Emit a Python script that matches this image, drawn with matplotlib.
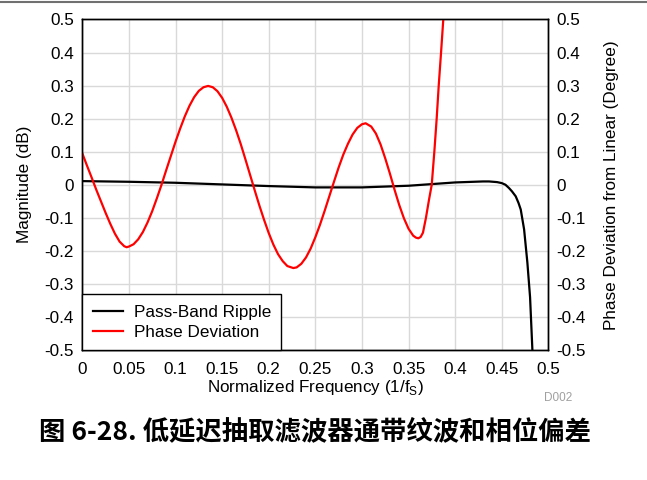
import matplotlib
matplotlib.use("Agg")
import matplotlib.pyplot as plt
from matplotlib.lines import Line2D

plt.rcParams['font.family'] = ['Liberation Sans', 'DejaVu Sans']

# Pass-band ripple (dB)
ripple_f = [0.0, 0.05, 0.1, 0.15, 0.2, 0.25, 0.3, 0.35, 0.4, 0.43, 0.4364,
            0.445, 0.45, 0.454, 0.4578, 0.461, 0.465, 0.468, 0.4704, 0.474,
            0.4775, 0.4804, 0.4829, 0.4845]
ripple_db = [0.011, 0.009, 0.006, 0.001, -0.004, -0.008, -0.008, -0.003, 0.007,
             0.010, 0.010, 0.008, 0.005, 0.000, -0.010, -0.020, -0.035, -0.055,
             -0.075, -0.135, -0.235, -0.34, -0.5, -0.6]

# Phase deviation from linear (degree)
phase_f = [0.0, 0.005, 0.01, 0.015, 0.02, 0.025, 0.03, 0.035, 0.04, 0.045,
           0.0476, 0.05, 0.055, 0.06, 0.065, 0.07, 0.075, 0.08, 0.085, 0.09, 0.095,
           0.10, 0.105, 0.11, 0.115, 0.12, 0.125, 0.13, 0.135, 0.14, 0.145,
           0.15, 0.155, 0.16, 0.165, 0.17, 0.175, 0.18, 0.185, 0.19, 0.195,
           0.20, 0.205, 0.21, 0.215, 0.22, 0.2264, 0.23, 0.235, 0.24, 0.245,
           0.25, 0.255, 0.26, 0.265, 0.27, 0.275, 0.28, 0.285, 0.29, 0.295,
           0.30, 0.304, 0.31, 0.315, 0.32, 0.325, 0.33, 0.335, 0.34, 0.345,
           0.35, 0.355, 0.358, 0.3605, 0.363, 0.3655, 0.3687, 0.372, 0.3749, 0.3777,
           0.3802, 0.3824, 0.3849, 0.3873, 0.3897]
phase_deg = [0.095, 0.058, 0.022, -0.015, -0.05, -0.085, -0.118, -0.148, -0.172, -0.186,
             -0.189, -0.187, -0.180, -0.165, -0.143, -0.114, -0.080, -0.041, 0.000, 0.044, 0.087,
             0.130, 0.170, 0.207, 0.239, 0.265, 0.284, 0.295, 0.299, 0.295, 0.283,
             0.263, 0.236, 0.203, 0.165, 0.123, 0.077, 0.030, -0.017, -0.063, -0.106,
             -0.146, -0.181, -0.210, -0.231, -0.246, -0.252, -0.250, -0.239, -0.220, -0.193,
             -0.159, -0.121, -0.079, -0.035, 0.009, 0.052, 0.091, 0.124, 0.152, 0.172,
             0.183, 0.186, 0.176, 0.155, 0.122, 0.080, 0.034, -0.015, -0.061, -0.101,
             -0.133, -0.154, -0.160, -0.162, -0.158, -0.145, -0.100, -0.045, 0.0, 0.1,
             0.2, 0.3, 0.4, 0.5, 0.6]

x_ticks = [0, 0.05, 0.1, 0.15, 0.2, 0.25, 0.3, 0.35, 0.4, 0.45, 0.5]
x_labels = ['0', '0.05', '0.1', '0.15', '0.2', '0.25', '0.3', '0.35', '0.4', '0.45', '0.5']
y_ticks = [-0.5, -0.4, -0.3, -0.2, -0.1, 0, 0.1, 0.2, 0.3, 0.4, 0.5]
y_labels = ['-0.5', '-0.4', '-0.3', '-0.2', '-0.1', '0', '0.1', '0.2', '0.3', '0.4', '0.5']

fs = 12.3

fig = plt.figure(figsize=(6.47, 4.8), dpi=100)
ax = fig.add_axes([0.1272, 0.2708, 0.7203, 0.6886])
ax2 = ax.twinx()

ax.plot(ripple_f, ripple_db, color='black', lw=1.6)
ax2.plot(phase_f, phase_deg, color='#ff0000', lw=1.6)

for a in (ax, ax2):
    a.set_xlim(0, 0.5)
    a.set_ylim(-0.5, 0.5)
    a.set_yticks(y_ticks)
    a.set_yticklabels(y_labels)
    a.tick_params(length=0, labelsize=fs, pad=6)
    for s in a.spines.values():
        s.set_color('black')
        s.set_linewidth(1.0)

ax.set_xticks(x_ticks)
ax.set_xticklabels(x_labels)
ax.tick_params(axis='x', pad=8.5)
ax.grid(True, color='#d9d9d9', lw=1.0)
ax.set_axisbelow(True)

ax.set_xlabel(r'Normalized Frequency (1/f$_{\mathregular{S}}$)', fontsize=fs, labelpad=1)
ax.set_ylabel('Magnitude (dB)', fontsize=fs, labelpad=9)
ax2.set_ylabel('Phase Deviation from Linear (Degree)', fontsize=fs, labelpad=13)

handles = [Line2D([], [], color='black', lw=1.6), Line2D([], [], color='#ff0000', lw=1.6)]
leg = ax2.legend(handles, ['Pass-Band Ripple', 'Phase Deviation'], loc='lower left',
                 fontsize=fs, frameon=True, fancybox=False, framealpha=1,
                 edgecolor='black', borderaxespad=0, handlelength=1.8,
                 borderpad=0.6, labelspacing=0.3, handletextpad=0.6)
leg.get_frame().set_linewidth(1.0)

fig.text(0.863, 0.171, 'D002', fontsize=8.5, color='#a0a0a0', ha='center', va='center')
fig.text(0.487, 0.10, '图 6-28. 低延迟抽取滤波器通带纹波和相位偏差',
         family=['Noto Sans CJK SC', 'DejaVu Sans'], fontsize=19, fontweight='bold',
         ha='center', va='center')
fig.add_artist(Line2D([0, 1], [0.995, 0.995], transform=fig.transFigure,
                      color='#707070', lw=1.5))

fig.savefig('out.png', dpi=100)
